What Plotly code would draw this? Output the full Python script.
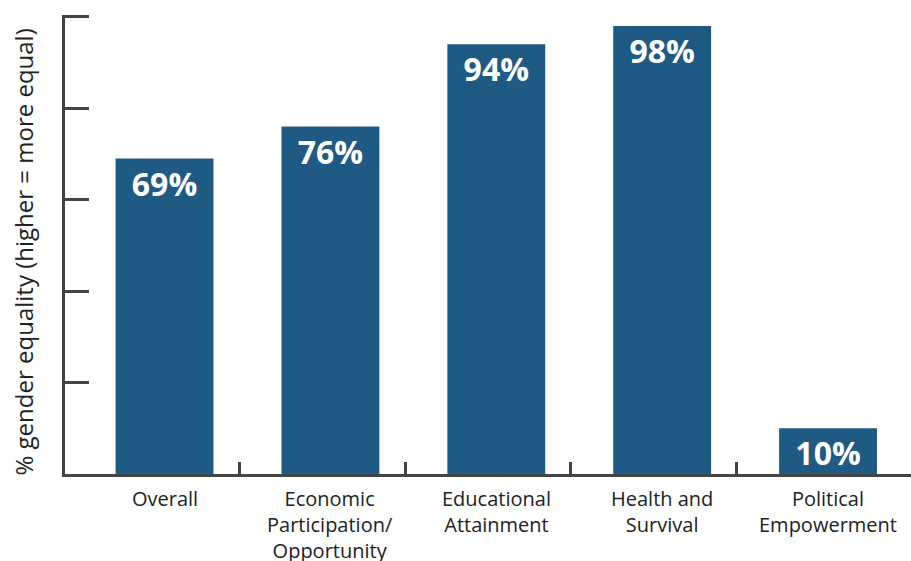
import plotly.graph_objects as go

categories = ["Overall", "Economic<br>Participation/<br>Opportunity", "Educational<br>Attainment",
              "Health and<br>Survival", "Political<br>Empowerment"]
values = [69, 76, 94, 98, 10]
y_ticks = [0, 20, 40, 60, 80, 100]
divider_ticks = [0.45, 1.45, 2.45, 3.45]

BAR = "#1f5a85"
AXIS = "#444444"
FONT = "Open Sans"

positions = list(range(len(categories)))

fig = go.Figure(go.Bar(
    x=positions,
    y=values,
    width=0.59,
    marker=dict(color=BAR, line=dict(width=0)),
    text=[f"{v}%" for v in values],
    textposition="inside",
    insidetextanchor="end",
    constraintext="none",
    textfont=dict(family=FONT, size=32, color="white", weight="bold"),
    textangle=0,
    hoverinfo="skip",
))

# category labels below the axis
for pos, label in zip(positions, categories):
    fig.add_annotation(
        x=pos, y=0, xref="x", yref="y", text=label, showarrow=False,
        yanchor="top", yshift=-9,
        font=dict(family=FONT, size=20, color="#222222"),
        align="center",
    )

# rotated axis title
fig.add_annotation(
    x=0, y=0.5, xref="paper", yref="paper", xanchor="center", yanchor="middle",
    xshift=-42, yshift=-8, text="% gender equality (higher = more equal)", textangle=-90,
    showarrow=False, font=dict(family=FONT, size=24, color="#222222"),
)

fig.update_xaxes(
    range=[-0.6, 4.5], tickmode="array", tickvals=divider_ticks, showticklabels=False,
    ticks="inside", ticklen=12, tickwidth=3, tickcolor=AXIS,
    showline=True, linewidth=3, linecolor=AXIS, showgrid=False, zeroline=False,
)
fig.update_yaxes(
    range=[0, 100.4], tickmode="array", tickvals=y_ticks, showticklabels=False,
    ticks="inside", ticklen=24, tickwidth=3, tickcolor=AXIS,
    showline=True, linewidth=3, linecolor=AXIS, showgrid=False, zeroline=False,
)

fig.update_layout(
    width=911, height=561,
    margin=dict(l=65, r=0, t=15, b=87),
    plot_bgcolor="white", paper_bgcolor="white",
    showlegend=False,
    font=dict(family=FONT),
)

fig.write_html("out.html")
